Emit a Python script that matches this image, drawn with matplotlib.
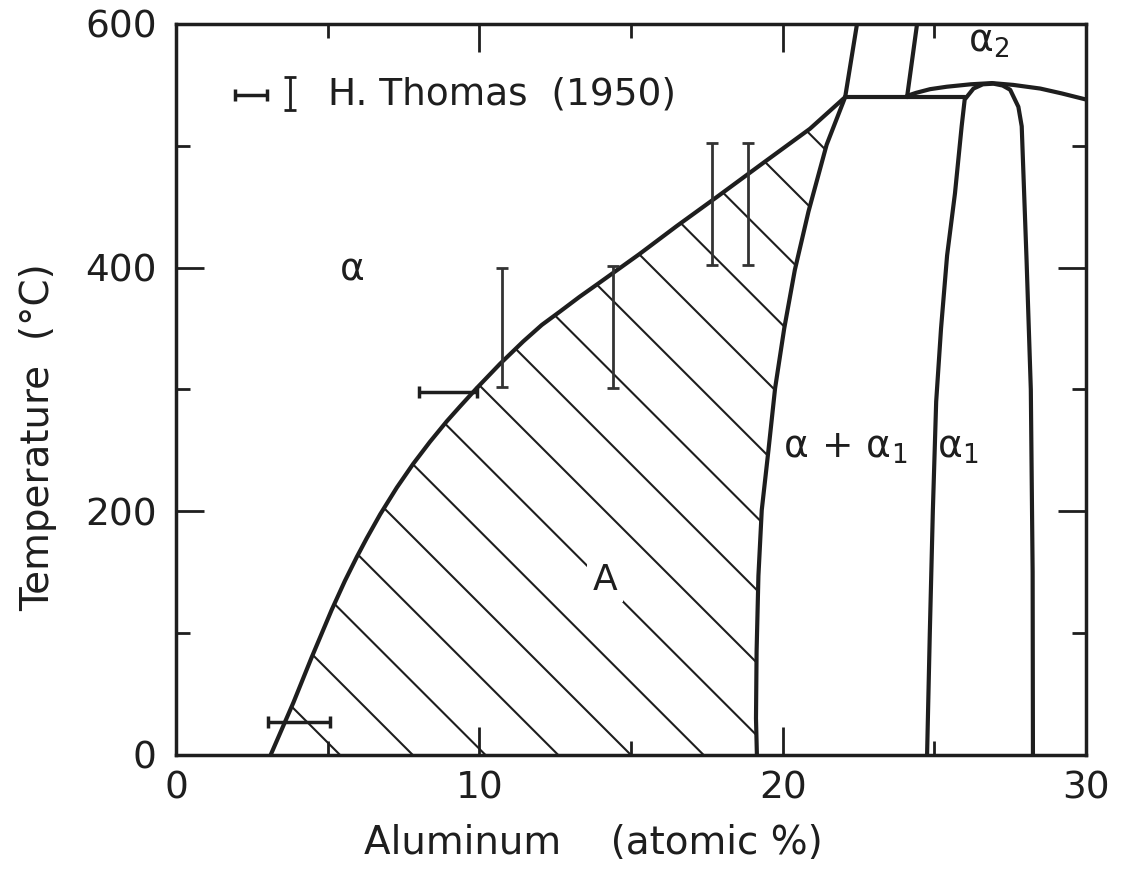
import matplotlib
matplotlib.use("Agg")
import matplotlib.pyplot as plt
from matplotlib.patches import Polygon

# phase boundaries (x = at.% Al, t = deg C)
solvus_x = [3.12, 3.87, 4.47, 5.13, 5.57, 5.96, 6.29, 6.73, 7.28, 7.82, 8.37, 8.93, 9.36, 9.91, 10.68, 11.45, 12.06,
            12.66, 13.30, 13.98, 15.27, 16.50, 17.83, 19.36, 20.90, 22.06]
solvus_t = [0, 43, 80, 119, 143, 162.5, 178, 197.5, 219.5, 239, 257, 274, 286, 301, 321, 339.5, 353,
            364, 376, 388, 411, 434, 458, 486, 514, 540]
bound_x = [19.15, 19.12, 19.14, 19.20, 19.31, 19.53, 19.75, 20.05, 20.40, 20.85, 21.45, 22.06]
bound_t = [0, 30, 85, 147, 201, 250, 301, 350, 398, 446, 501, 540]
upper1_x = [22.06, 22.45]
upper1_t = [540, 600]
upper2_x = [24.10, 24.43]
upper2_t = [540, 600]
three_x = [22.06, 26.00]
three_t = [540, 540]
a2_x = [24.10, 24.40, 24.86, 25.41, 26.20, 26.90, 27.60, 28.49, 29.20, 30.0]
a2_t = [541, 543.5, 546.5, 548.5, 550.5, 551.5, 550, 547, 543, 538]
dome_x = [24.76, 24.85, 24.95, 25.06, 25.22, 25.42, 25.68, 25.90, 26.00, 26.29, 26.60, 26.95, 27.25, 27.50,
          27.77, 27.88, 28.04, 28.18, 28.24, 28.25]
dome_t = [0, 100, 200, 290, 350, 410, 461, 516, 538, 547, 550.5, 551, 549.5, 546,
          532, 516, 406, 300, 150, 0]

# H. Thomas (1950) data ranges
hbar_x = [4.05, 8.97]
hbar_xerr = [1.03, 0.95]
hbar_t = [27, 298]
vbar_x = [10.74, 14.42, 17.66, 18.87]
vbar_t = [351, 351, 452, 452]
vbar_err = [49, 50, 50, 50]

xticks_major = [0, 10, 20, 30]
xticks_minor = [5, 15, 25]
yticks_major = [0, 200, 400, 600]
yticks_minor = [100, 300, 500]

plt.rcParams['font.family'] = ['DejaVu Sans']
ink = '#1e1e1e'

fig = plt.figure(figsize=(11.21, 8.69), dpi=100)
ax = fig.add_axes([0.157, 0.1312, 0.8118, 0.8412])
ax.set_xlim(0, 30)
ax.set_ylim(0, 600)

# hatched region A
region = Polygon(list(zip(solvus_x, solvus_t)) + list(zip(bound_x[::-1], bound_t[::-1])),
                 closed=True, facecolor='none', edgecolor='none')
ax.add_patch(region)
fig.canvas.draw()
w_px = ax.bbox.width / 30.0
h_px = ax.bbox.height / 600.0
k = w_px / h_px  # 45 degree lines on screen
for n in range(16):
    xb = 5.41 + 2.397 * n
    ln, = ax.plot([xb - 30, xb], [k * 30, 0], color=ink, lw=1.5, zorder=2)
    ln.set_clip_path(region)

lw = 3.0
for xs, ts in [(solvus_x, solvus_t), (bound_x, bound_t), (upper1_x, upper1_t),
               (upper2_x, upper2_t), (three_x, three_t), (a2_x, a2_t), (dome_x, dome_t)]:
    ax.plot(xs, ts, color=ink, lw=lw, solid_capstyle='round', solid_joinstyle='round', zorder=3)

ax.errorbar(hbar_x, hbar_t, xerr=hbar_xerr, fmt='none', ecolor=ink, elinewidth=2.5, capsize=4.5, capthick=2.5, zorder=4)
ax.errorbar(vbar_x, vbar_t, yerr=vbar_err, fmt='none', ecolor='#333333', elinewidth=2, capsize=4, capthick=2, zorder=4)

# legend symbols
ax.errorbar([2.47], [542], xerr=[0.52], fmt='none', ecolor=ink, elinewidth=2.5, capsize=4.5, capthick=2.5)
ax.errorbar([3.76], [543], yerr=[13.5], fmt='none', ecolor=ink, elinewidth=2, capsize=4.5, capthick=2)
ax.text(5.0, 542, 'H. Thomas  (1950)', fontsize=27, va='center', ha='left', color=ink)

ax.text(5.8, 398, 'α', fontsize=27, ha='center', va='center', color=ink)
ax.text(22.05, 252, r'$\mathregular{\alpha\,+\,\alpha_1}$', fontsize=27, ha='center', va='center', color=ink)
ax.text(25.78, 252, r'$\mathregular{\alpha_1}$', fontsize=27, ha='center', va='center', color=ink)
ax.text(26.77, 585, r'$\mathregular{\alpha_2}$', fontsize=27, ha='center', va='center', color=ink)
ax.text(14.14, 144, 'A', fontsize=26, ha='center', va='center', color=ink, zorder=5,
        bbox=dict(boxstyle='square,pad=0.15', fc='white', ec='none'))

ax.set_xticks(xticks_major)
ax.set_xticks(xticks_minor, minor=True)
ax.set_yticks(yticks_major)
ax.set_yticks(yticks_minor, minor=True)
ax.tick_params(which='both', direction='in', top=True, right=True, colors=ink, width=2)
ax.tick_params(which='major', length=20, labelsize=27, pad=14)
ax.tick_params(axis='x', which='major', pad=11)
ax.tick_params(which='minor', length=10)
for s in ax.spines.values():
    s.set_linewidth(2.5)
    s.set_color(ink)

ax.set_xlabel('Aluminum    (atomic %)', fontsize=28, color=ink)
ax.xaxis.set_label_coords(0.459, -0.095)
ax.set_ylabel('Temperature  (°C)', fontsize=28, color=ink)
ax.yaxis.set_label_coords(-0.131, 0.435)

fig.savefig('out.png', dpi=100, facecolor='white')
